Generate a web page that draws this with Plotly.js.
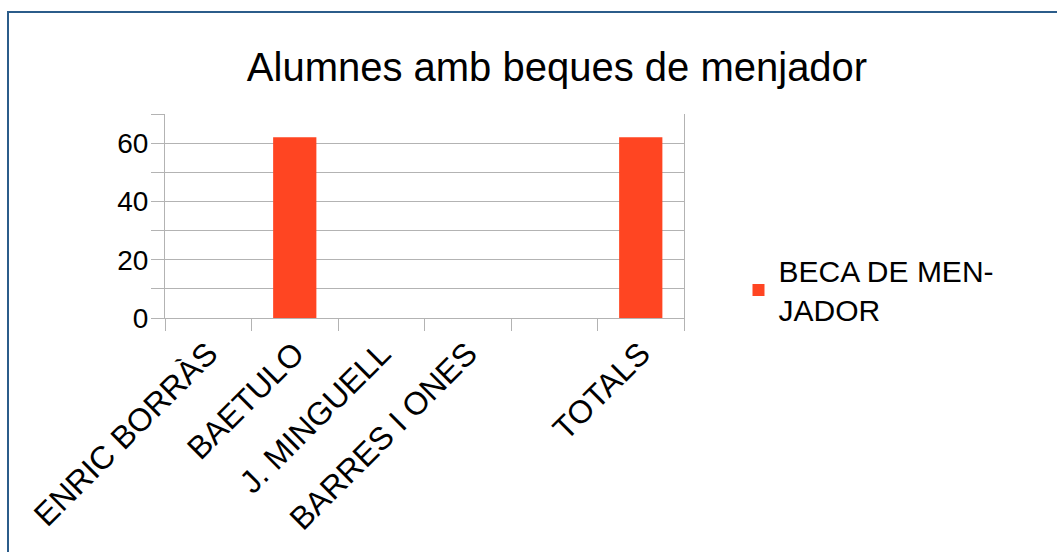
<!DOCTYPE html>
<html>
<head>
<meta charset="utf-8">
<script src="https://cdn.plot.ly/plotly-3.0.1.min.js"></script>
<style>
  html, body { margin: 0; padding: 0; background: #ffffff; }
  #wrap { position: relative; width: 1057px; height: 552px; overflow: hidden; }
  #chart { position: absolute; left: 0; top: 0; width: 1057px; height: 552px; }
  #frame { position: absolute; left: 7px; top: 11px; width: 1100px; height: 600px;
           border-left: 2px solid #2b5c8a; border-top: 2px solid #2b5c8a; pointer-events: none; }
</style>
</head>
<body>
<div id="wrap">
  <div id="chart"></div>
  <div id="frame"></div>
</div>
<script>
// Data
const categories = ["ENRIC BORRÀS", "BAETULO", "J. MINGUELL", "BARRES I ONES", " ", "TOTALS"];
const becaMenjador = [0, 62, 0, 0, 0, 62];
const seriesName = "BECA DE MEN-<br>JADOR";
const chartTitle = "Alumnes amb beques de menjador";

const FONT = "Liberation Sans, Arial, sans-serif";

const trace = {
  type: "bar",
  x: categories,
  y: becaMenjador,
  name: seriesName,
  width: 0.5,
  marker: { color: "#ff4522" },
  showlegend: true,
  hoverinfo: "x+y"
};

const layout = {
  width: 1057,
  height: 552,
  paper_bgcolor: "#ffffff",
  plot_bgcolor: "#ffffff",
  font: { family: FONT, color: "#000000", size: 30 },
  margin: { l: 165, r: 373, t: 114, b: 234, pad: 0 },
  title: {
    text: chartTitle,
    font: { family: FONT, size: 40, color: "#000000" },
    xref: "container", x: 557 / 1057, xanchor: "center",
    yref: "container", y: 1 - 67 / 552, yanchor: "middle"
  },
  showlegend: true,
  legend: {
    x: 1.105, xanchor: "left",
    y: 0.36, yanchor: "top",
    font: { family: FONT, size: 30, color: "#000000" },
    bgcolor: "rgba(0,0,0,0)",
    tracegroupgap: 0
  },
  xaxis: {
    type: "category",
    categoryorder: "array",
    categoryarray: categories,
    tickangle: -45,
    tickson: "boundaries",
    ticks: "outside",
    ticklen: 12,
    tickcolor: "#b3b3b3",
    tickwidth: 1,
    showline: true,
    linecolor: "#b3b3b3",
    linewidth: 1,
    showgrid: false,
    zeroline: false,
    tickfont: { family: FONT, size: 32, color: "#000000" },
    ticklabelstandoff: 3,
    automargin: false
  },
  yaxis: {
    range: [0, 70],
    dtick: 20,
    tick0: 0,
    ticks: "outside",
    ticklen: 13,
    tickcolor: "#b3b3b3",
    tickwidth: 1,
    showgrid: true,
    gridcolor: "#b3b3b3",
    gridwidth: 1,
    showline: true,
    mirror: true,
    linecolor: "#b3b3b3",
    linewidth: 1,
    zeroline: false,
    minor: { dtick: 10, tick0: 0, ticks: "outside", ticklen: 13, tickcolor: "#b3b3b3", showgrid: true, gridcolor: "#b3b3b3", gridwidth: 1 },
    tickfont: { family: FONT, size: 28, color: "#000000" },
    ticklabelstandoff: -3,
    automargin: false,
    fixedrange: true
  },
  bargap: 0.5
};

Plotly.newPlot("chart", [trace], layout, { displayModeBar: false, staticPlot: true });
</script>
</body>
</html>
